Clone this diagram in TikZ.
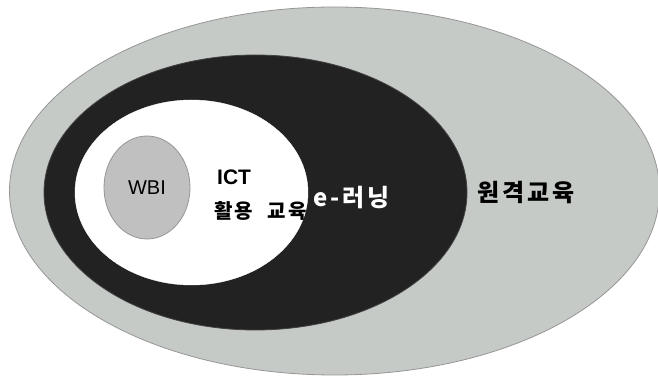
\documentclass[tikz,border=0pt]{standalone}
\usepackage{fontspec}
\setmainfont{Liberation Sans}
\newfontfamily\kofont{Noto Sans CJK KR}[LetterSpace=12]
\usepackage{tikz}
\usetikzlibrary{shapes.geometric, positioning}
\definecolor{mygray}{RGB}{198,202,199}
\definecolor{myedge}{RGB}{150,150,150}
\definecolor{mydark}{RGB}{34,34,34}
\definecolor{mysilver}{RGB}{192,192,192}
\tikzset{
  zone/.style={ellipse, inner sep=0pt, line width=0.8pt},
  graylbl/.style={font=\kofont\bfseries\fontsize{24}{26}\selectfont, text=black},
  darklbl/.style={font=\kofont\bfseries\fontsize{24}{26}\selectfont, text=white},
  whitelbl/.style={font=\bfseries\fontsize{21}{23}\selectfont, text=black}
}

\begin{document}
\begin{tikzpicture}[x=1pt, y=1pt]
  \useasboundingbox (0,0) rectangle (658,377);

  % Nested zones
  \node[zone, draw=myedge, fill=mygray, minimum width=650pt, minimum height=368pt] (distance) at (334.5,186) {};
  \node[zone, draw=mydark!85, fill=mydark, minimum width=423pt, minimum height=275pt] (elearn) at (255.5,184.5) {};
  \node[zone, draw=white, fill=white, line width=0.4pt, minimum width=233pt, minimum height=185pt] (ict) at (191.5,184.5) {};
  \node[zone, draw=myedge, fill=mysilver, minimum width=86pt, minimum height=103pt,
        font=\fontsize{20}{22}\selectfont] (wbi) at (147,189.5) {WBI};

  % Labels
  \node[whitelbl, anchor=west, inner sep=0pt] (ictname) at (217,200) {ICT};
  \node[whitelbl, anchor=west, inner sep=0pt, font=\kofont\bfseries\fontsize{20}{22}\selectfont] (ictuse) at (214,166) {활용~~교육};
  \node[darklbl, anchor=west, inner sep=0pt] (elearnname) at (313,179) {e-러닝};
  \node[graylbl, anchor=west, inner sep=0pt] (distname) at (477,184) {원격교육};
\end{tikzpicture}
\end{document}
